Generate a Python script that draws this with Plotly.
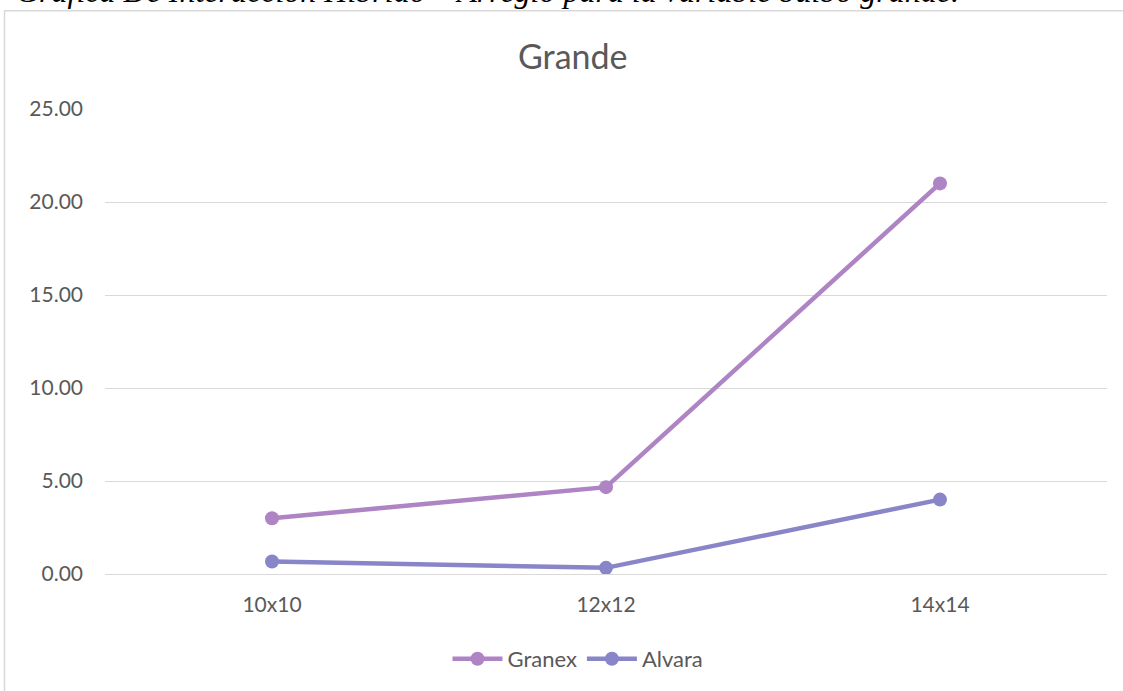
import plotly.graph_objects as go

categories = ["10x10", "12x12", "14x14"]
granex = [3.00, 4.67, 21.00]
alvara = [0.67, 0.33, 4.00]
y_ticks = [0, 5, 10, 15, 20, 25]
y_tick_labels = ["0.00", "5.00", "10.00", "15.00", "20.00", "25.00"]

W, H = 1123, 691
L, R, T, B = 105, 16, 109, 116
pw, ph = W - L - R, H - T - B

def px_x(p):
    return (p - L) / pw

def px_y(p):
    return (H - B - p) / ph

fig = go.Figure()
fig.add_trace(go.Scatter(
    x=categories, y=granex, name="Granex", mode="lines+markers",
    line=dict(color="#AE84C5", width=4.5),
    marker=dict(color="#AE84C5", size=14),
))
fig.add_trace(go.Scatter(
    x=categories, y=alvara, name="Alvara", mode="lines+markers",
    line=dict(color="#8886C8", width=4.5),
    marker=dict(color="#8886C8", size=14),
))

font_family = "Lato, 'Open Sans', sans-serif"
fig.update_layout(
    width=W, height=H,
    margin=dict(l=L, r=R, t=T, b=B),
    paper_bgcolor="white", plot_bgcolor="white",
    font=dict(family=font_family, color="#595959", size=21),
    showlegend=True,
    legend=dict(orientation="h", x=px_x(578), y=px_y(659), xanchor="center", yanchor="middle",
                font=dict(size=22, color="#595959"), itemwidth=50, tracegroupgap=0),
    xaxis=dict(type="category", range=[-0.5, 2.5], showgrid=False, showline=True,
               linecolor="#D9D9D9", linewidth=1, ticks="", tickfont=dict(size=21, color="#595959"),
               ticklabelstandoff=12, zeroline=False),
    yaxis=dict(range=[0, 25], tickvals=y_ticks, ticktext=y_tick_labels, showgrid=True,
               gridcolor="#D9D9D9", gridwidth=1, zeroline=False, showline=False, ticks="",
               tickfont=dict(size=21, color="#595959"), ticklabelstandoff=21),
    shapes=[dict(type="rect", xref="paper", yref="paper",
                 x0=px_x(4.5), x1=px_x(1200), y0=px_y(800), y1=px_y(10.5),
                 line=dict(color="#D9D9D9", width=1.5), fillcolor="rgba(0,0,0,0)", layer="below")],
    annotations=[
        dict(text="Grande", xref="paper", yref="paper", x=px_x(573), y=px_y(55),
             xanchor="center", yanchor="middle", showarrow=False,
             font=dict(size=34, color="#595959", family=font_family)),
        dict(text="<i>Gráfica De Interacción Híbrido * Arreglo para la variable bulbo grande.</i>",
             xref="paper", yref="paper", x=px_x(14), y=px_y(-9),
             xanchor="left", yanchor="middle", showarrow=False,
             font=dict(size=32, color="black", family="'Liberation Serif', 'Times New Roman', serif")),
    ],
)

fig.write_html("out.html")
